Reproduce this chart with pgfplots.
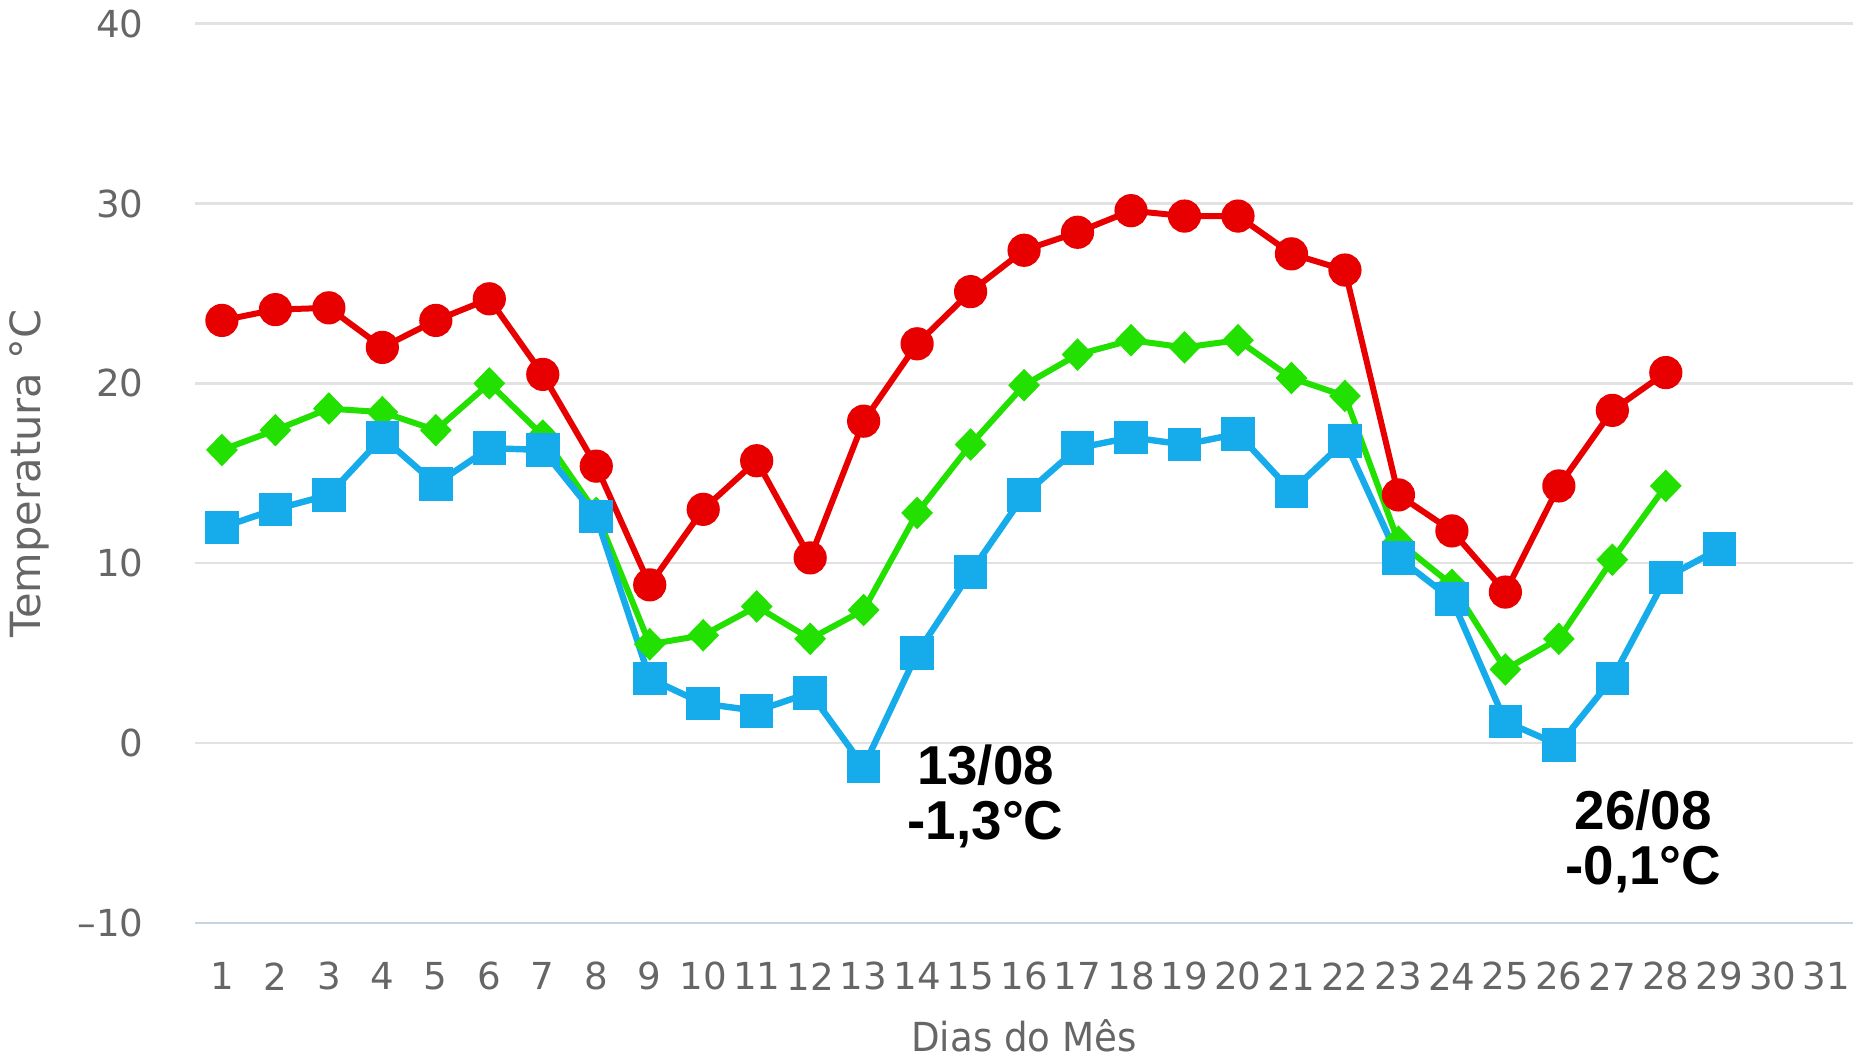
\documentclass[border=0pt]{standalone}
\usepackage{fontspec}
\setmainfont{DejaVu Sans}
\newfontfamily\annfont{Liberation Sans}
\newfontfamily\labfont[FakeStretch=0.93]{DejaVu Sans}
\usepackage{pgfplots}
\pgfplotsset{compat=1.18}
\definecolor{cred}{HTML}{E80000}
\definecolor{cgreen}{HTML}{22E000}
\definecolor{cblue}{HTML}{16ACEC}
\definecolor{gridc}{HTML}{E2E2E2}
\definecolor{axisc}{HTML}{C8D4E0}
\definecolor{tickc}{HTML}{666666}
\begin{document}
\begin{tikzpicture}
\begin{axis}[
  at={(0,0)}, anchor=south west,
  scale only axis, width=414.5pt, height=224.9pt,
  xmin=0.5, xmax=31.5, ymin=-10, ymax=40,
  xtick={1,2,...,31}, ytick={-10,0,10,20,30,40},
  yticklabels={–10,0,10,20,30,40},
  /pgf/number format/assume math mode=true,
  ymajorgrids, grid style={draw=gridc, line width=0.6pt},
  axis x line*=bottom, axis y line*=left,
  x axis line style={draw=axisc, line width=0.6pt, -},
  y axis line style={draw=none},
  major tick length=0pt,
  tick label style={font=\fontsize{9.3}{11}\selectfont, text=tickc},
  yticklabel style={anchor=east, inner sep=0pt, xshift=-12.7pt},
  xticklabel style={anchor=center, inner sep=0pt, yshift=-13.3pt},
  xlabel={Dias do Mês}, ylabel={Temperatura °C},
  xlabel style={font=\labfont\fontsize{10}{12}\selectfont, text=tickc, at={(axis description cs:0.5,-0.1255)}, anchor=center, inner sep=0pt},
  ylabel style={font=\fontsize{10.4}{12}\selectfont, text=tickc, at={(axis description cs:-0.0999,0.5)}, anchor=center, inner sep=0pt},
  clip=false,
]
\addplot[color=cred, line width=1.5pt, mark=*, mark size=3.4pt] coordinates {
(1,23.5) (2,24.1) (3,24.2) (4,22.0) (5,23.5) (6,24.7) (7,20.5) (8,15.4)
(9,8.8) (10,13.0) (11,15.7) (12,10.3) (13,17.9) (14,22.2) (15,25.1) (16,27.4)
(17,28.4) (18,29.6) (19,29.3) (20,29.3) (21,27.2) (22,26.3) (23,13.8) (24,11.8)
(25,8.4) (26,14.3) (27,18.5) (28,20.6)};
\addplot[color=cgreen, line width=1.5pt, mark=diamond*, mark size=3pt, mark options={xscale=1.3}] coordinates {
(1,16.3) (2,17.4) (3,18.6) (4,18.4) (5,17.4) (6,20.0) (7,17.1) (8,12.8)
(9,5.5) (10,6.0) (11,7.6) (12,5.8) (13,7.4) (14,12.8) (15,16.6) (16,19.9)
(17,21.6) (18,22.4) (19,22.0) (20,22.4) (21,20.3) (22,19.3) (23,11.2) (24,8.8)
(25,4.1) (26,5.8) (27,10.2) (28,14.3)};
\addplot[color=cblue, line width=1.6pt, mark=square*, mark size=3.4pt] coordinates {
(1,12.0) (2,13.0) (3,13.8) (4,17.0) (5,14.4) (6,16.4) (7,16.3) (8,12.6)
(9,3.6) (10,2.2) (11,1.8) (12,2.8) (13,-1.3) (14,5.0) (15,9.5) (16,13.8)
(17,16.4) (18,17.0) (19,16.6) (20,17.2) (21,14.0) (22,16.8) (23,10.3) (24,8.0)
(25,1.2) (26,-0.1) (27,3.6) (28,9.2) (29,10.8)};
\node[font=\annfont\bfseries\fontsize{13.7}{13.6}\selectfont, align=center, inner sep=0pt] at (axis cs:15.28,-2.96) {13/08\\-1,3°C};
\node[font=\annfont\bfseries\fontsize{13.7}{13.6}\selectfont, align=center, inner sep=0pt] at (axis cs:27.58,-5.46) {26/08\\-0,1°C};
\end{axis}
\pgfresetboundingbox
\path[use as bounding box] (-48.8pt,-33.75pt) rectangle (414.5pt,230.8pt);
\end{tikzpicture}
\end{document}
